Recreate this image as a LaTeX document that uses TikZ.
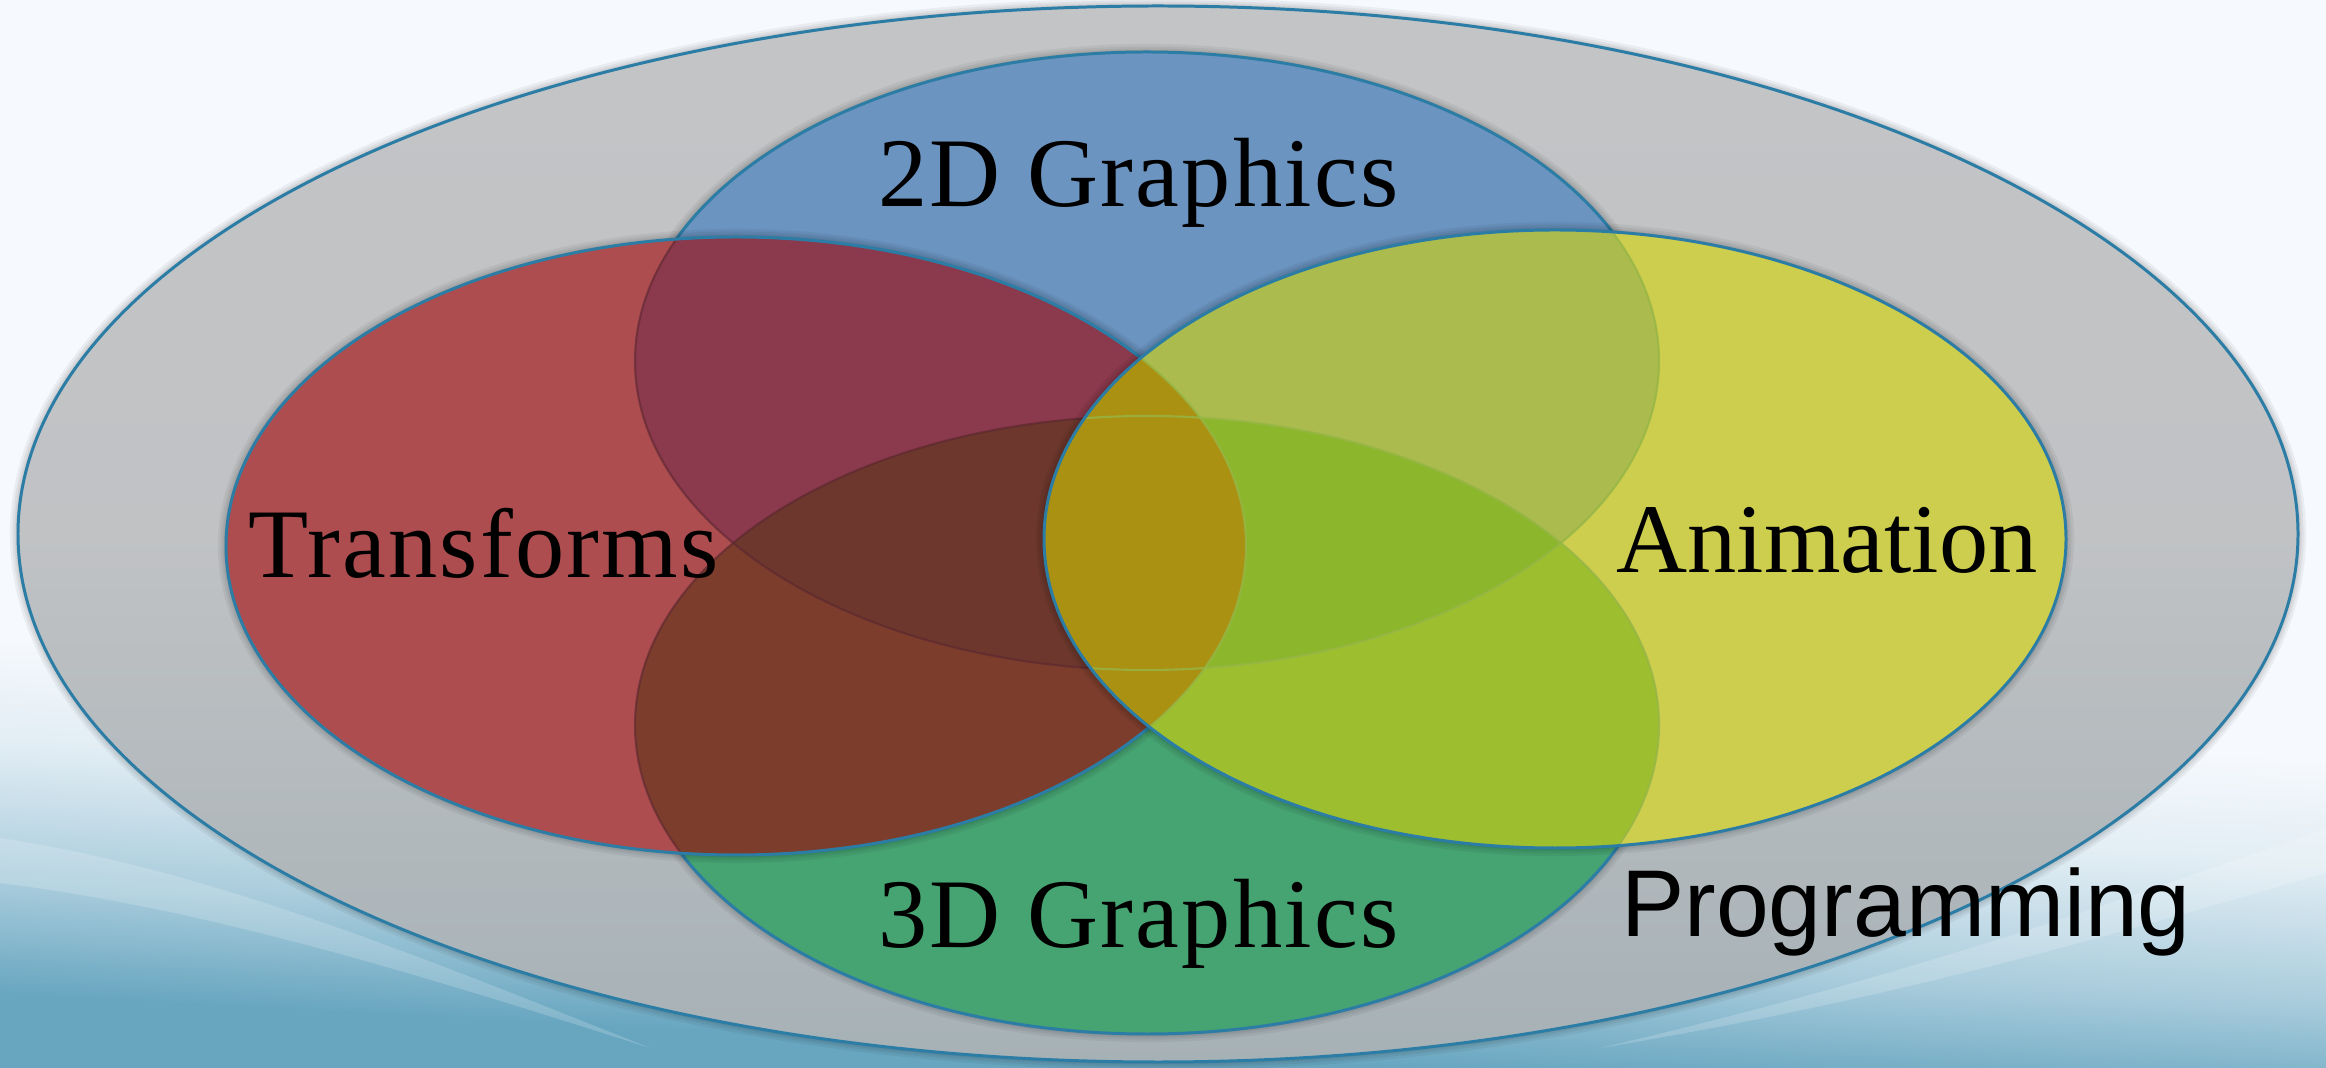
\documentclass[tikz,border=0pt]{standalone}
\usepackage{fontspec}
\setmainfont{Liberation Serif}
\newfontfamily\spacedfont[LetterSpace=2.3]{Liberation Serif}
\newfontfamily\progfont{Liberation Sans}
\usepackage{xcolor}
\definecolor{bgtop}{RGB}{246,249,253}
\definecolor{bgblue}{RGB}{104,166,192}
\definecolor{ringtop}{RGB}{195,196,198}
\definecolor{ringbot}{RGB}{166,177,182}
\definecolor{edgeteal}{RGB}{43,125,166}
\definecolor{vred}{RGB}{173,77,79}
\definecolor{vblue}{RGB}{107,148,192}
\definecolor{vyellow}{RGB}{205,205,78}
\definecolor{vgreen}{RGB}{70,163,114}
\definecolor{redblue}{RGB}{139,57,76}
\definecolor{redgreen}{RGB}{124,61,44}
\definecolor{redbluegreen}{RGB}{109,55,45}
\definecolor{yelblue}{RGB}{171,187,77}
\definecolor{yelgreen}{RGB}{157,191,47}
\definecolor{yelbluegreen}{RGB}{140,183,45}
\definecolor{lens}{RGB}{170,145,18}
\definecolor{darkseam}{RGB}{90,38,48}
\definecolor{lightseam}{RGB}{150,182,70}
\usetikzlibrary{positioning}

% background: blue at the bottom, flat near-white above
% (tikz maps the path onto 25bp..75bp of the shading)
\pgfdeclareverticalshading{bgwave}{100bp}{color(0bp)=(bgblue); color(31bp)=(bgblue); color(35bp)=(bgblue!55!bgtop); color(40bp)=(bgblue!15!bgtop); color(44bp)=(bgtop); color(100bp)=(bgtop)}

% ellipse paths, 1cm = 100px
\def\ringset{(11.58,5.34) ellipse [x radius=11.40, y radius=5.28]}
\def\redset{(7.36,5.22) ellipse [x radius=5.10, y radius=3.09]}
\def\blueset{(11.47,7.07) ellipse [x radius=5.12, y radius=3.09]}
\def\yelset{(15.55,5.29) ellipse [x radius=5.11, y radius=3.09]}
\def\greenset{(11.47,3.43) ellipse [x radius=5.12, y radius=3.09]}

% soft halo behind a shape
\newcommand{\softshadow}[1]{%
  \foreach \w in {4.6pt,3.2pt,2pt,1.1pt} {\draw[black, opacity=0.05, line width=\w] #1;}}

\tikzset{
  venn edge/.style={draw=edgeteal, line width=0.85pt},
  dark seam/.style={draw=darkseam, opacity=0.6, line width=0.6pt},
  light seam/.style={draw=lightseam, opacity=0.8, line width=0.6pt},
  set label/.style={font=\spacedfont\fontsize{28}{34}\selectfont, inner sep=0pt, anchor=base}
}

\begin{document}
\begin{tikzpicture}
  \useasboundingbox (0,0) rectangle (23.26,10.68);

  % Background, tilted a little
  \begin{scope}
    \clip (0,0) rectangle (23.26,10.68);
    \begin{scope}[transform canvas={rotate around={-3:(11.63,5.34)}}]
      \fill[shading=bgwave] (-2,-1.5) rectangle (25.26,12.2);
    \end{scope}
  \end{scope}
  \fill[white, opacity=0.18] (0,2.3) .. controls (2,2.0) and (4,1.2) .. (6.5,0.2) .. controls (4,1.0) and (2,1.6) .. (0,1.85) -- cycle;
  \fill[white, opacity=0.18] (23.26,2.4) .. controls (21,1.6) and (19,0.9) .. (16,0.2) .. controls (19,0.7) and (21,1.3) .. (23.26,1.95) -- cycle;

  % --- Outer ring: Programming ---
  \softshadow{\ringset}
  \fill[top color=ringtop, bottom color=ringbot, middle color=ringtop!90!ringbot] \ringset;
  \draw[venn edge] \ringset;

  % --- 2D Graphics ---
  \softshadow{\blueset}
  \fill[vblue] \blueset;
  \draw[venn edge] \blueset;

  % --- 3D Graphics ---
  \softshadow{\greenset}
  \fill[vgreen] \greenset;
  \draw[venn edge] \greenset;

  % --- Transforms ---
  \softshadow{\redset}
  \fill[vred] \redset;
  \begin{scope}
    \clip \redset;
    \fill[redblue] \blueset;
    \fill[redgreen] \greenset;
    \begin{scope}
      \clip \blueset;
      \fill[redbluegreen] \greenset;
    \end{scope}
    \draw[dark seam] \blueset;
    \draw[dark seam] \greenset;
  \end{scope}
  \draw[venn edge] \redset;

  % --- Animation ---
  \softshadow{\yelset}
  \fill[vyellow] \yelset;
  \begin{scope}
    \clip \yelset;
    \fill[yelblue] \blueset;
    \fill[yelgreen] \greenset;
    \begin{scope}
      \clip \blueset;
      \fill[yelbluegreen] \greenset;
    \end{scope}
    \fill[lens] \redset;
    \draw[light seam] \blueset;
    \draw[light seam] \greenset;
    \draw[light seam] \redset;
  \end{scope}
  \draw[venn edge] \yelset;

  % Labels
  \node[set label] (twod) at (11.385,8.61) {2D Graphics};
  \node[set label] (trans) at (4.835,4.90) {Transforms};
  \node[set label, font=\rmfamily\fontsize{28}{34}\selectfont] (anim) at (18.27,4.95) {Animation};
  \node[set label] (threed) at (11.385,1.20) {3D Graphics};
  \node[set label, font=\progfont\fontsize{27}{32}\selectfont] (prog) at (19.06,1.31) {Programming};
\end{tikzpicture}
\end{document}
